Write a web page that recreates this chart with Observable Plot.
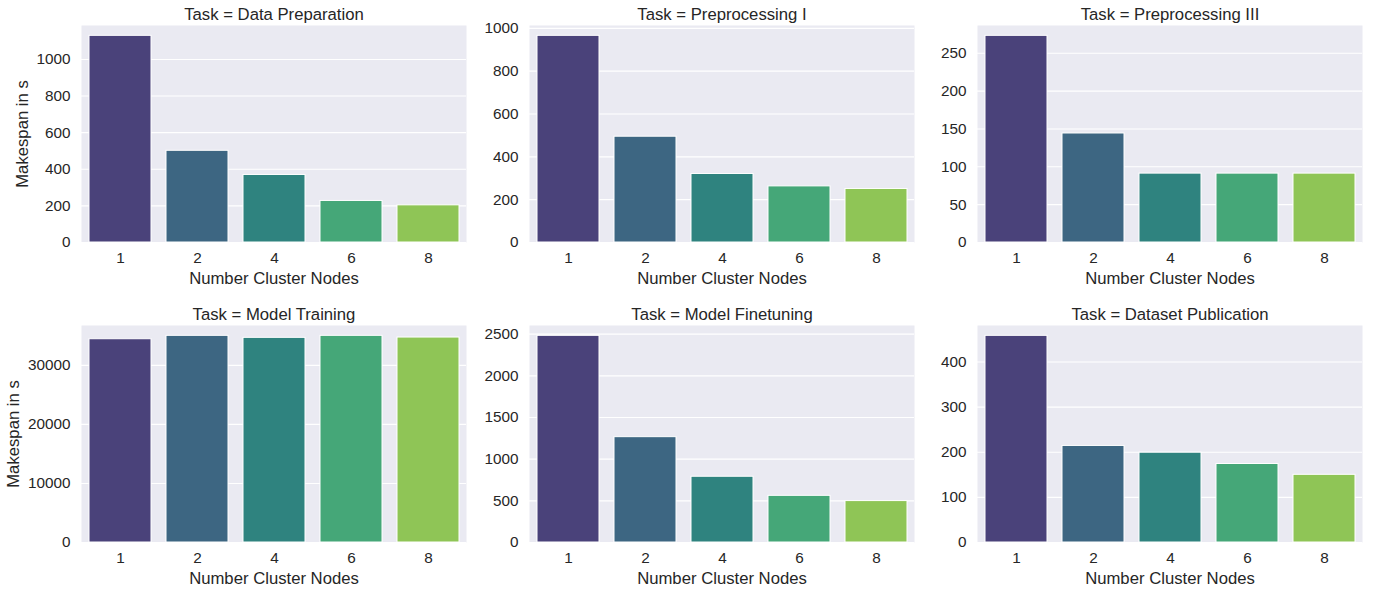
<!DOCTYPE html>
<html><head><meta charset="utf-8">
<script src="https://cdn.jsdelivr.net/npm/d3@7"></script>
<script src="https://cdn.jsdelivr.net/npm/@observablehq/plot@0.6"></script>
<style>
body{margin:0;background:#fff;}
#wrap{position:relative;width:1374px;height:589px;overflow:hidden;background:#fff;}
#wrap svg{position:absolute;overflow:visible;}
</style></head><body><div id="wrap"></div>
<script>
// categories
const nodes = ["1", "2", "4", "6", "8"];
const tasks = ["Data Preparation", "Preprocessing I", "Preprocessing III", "Model Training", "Model Finetuning", "Dataset Publication"];
// series values (makespan in s), one per number of cluster nodes
const dataPreparation = [1129, 501, 369, 227, 203];
const preprocessingI = [965, 494, 320, 262, 250];
const preprocessingIII = [273, 144, 91, 91, 91];
const modelTraining = [34425, 35000, 34660, 35000, 34710];
const modelFinetuning = [2480, 1264, 789, 560, 497];
const datasetPublication = [458, 214, 199, 174, 150];
// y tick labels per panel
const ticksDataPreparation = [0, 200, 400, 600, 800, 1000];
const ticksPreprocessingI = [0, 200, 400, 600, 800, 1000];
const ticksPreprocessingIII = [0, 50, 100, 150, 200, 250];
const ticksModelTraining = [0, 10000, 20000, 30000];
const ticksModelFinetuning = [0, 500, 1000, 1500, 2000, 2500];
const ticksDatasetPublication = [0, 100, 200, 300, 400];

const xLabel = "Number Cluster Nodes";
const yLabel = "Makespan in s";

// seaborn "viridis" palette (5 colours, desaturated by 0.75)
const palette = nodes.map((_, i) => {
  const c = d3.hsl(d3.interpolateViridis((i + 1) / (nodes.length + 1)));
  c.s *= 0.75;
  return c.formatHex();
});

const series = [dataPreparation, preprocessingI, preprocessingIII, modelTraining, modelFinetuning, datasetPublication];
const tickSets = [ticksDataPreparation, ticksPreprocessingI, ticksPreprocessingIII, ticksModelTraining, ticksModelFinetuning, ticksDatasetPublication];

const colLeft = [0, 448, 896];
const rowTop = [0, 300];
const yLabelDx = [-53.5, -62.7];
const wrap = document.getElementById("wrap");
const tickFont = 15.3, labelFont = 16.7;

tasks.forEach((task, k) => {
  const col = k % 3, row = Math.floor(k / 3);
  const rows = nodes.map((n, i) => ({nodes: n, value: series[k][i]}));
  const ymax = d3.max(rows, d => d.value) * 1.05;
  const svg = Plot.plot({
    width: 471,
    height: 289,
    marginLeft: 81,
    marginRight: 5,
    marginTop: 25,
    marginBottom: 47,
    style: {fontFamily: '"Liberation Sans", Arial, sans-serif', fontSize: tickFont + "px", color: "#262626", background: "transparent", overflow: "visible"},
    x: {type: "band", domain: nodes, paddingInner: 0.2, paddingOuter: 0.1, label: null},
    y: {domain: [0, ymax], label: null},
    color: {domain: nodes, range: palette},
    marks: [
      Plot.frame({fill: "#eaeaf2", stroke: null}),
      Plot.gridY(tickSets[k], {stroke: "#ffffff", strokeOpacity: 1, strokeWidth: 1.1}),
      Plot.barY(rows, {x: "nodes", y: "value", fill: "nodes", stroke: "#ffffff", strokeWidth: 1}),
      Plot.axisX({tickSize: 0, tickPadding: 10, label: null, fontSize: tickFont}),
      Plot.axisY(tickSets[k], {tickSize: 0, tickPadding: 11, label: null, fontSize: tickFont, tickFormat: d => String(d)}),
      Plot.text([`Task = ${task}`], {text: d => d, frameAnchor: "top", dy: -6, lineAnchor: "bottom", fontSize: labelFont, fill: "#262626"}),
      Plot.text([xLabel], {text: d => d, frameAnchor: "bottom", dy: 41.6, lineAnchor: "bottom", fontSize: labelFont, fill: "#262626"}),
      col === 0 ? Plot.text([yLabel], {text: d => d, frameAnchor: "left", textAnchor: "middle", dx: yLabelDx[row], rotate: -90, lineAnchor: "bottom", fontSize: labelFont, fill: "#262626"}) : null
    ]
  });
  svg.style.left = colLeft[col] + "px";
  svg.style.top = rowTop[row] + "px";
  wrap.appendChild(svg);
});
</script>
</body></html>
